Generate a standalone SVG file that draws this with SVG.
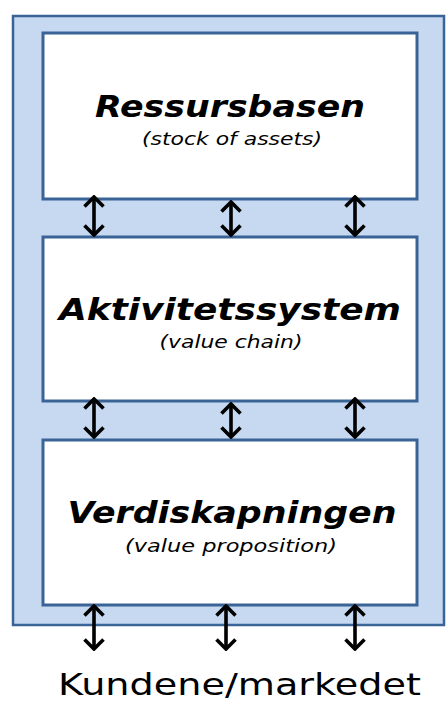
<svg xmlns="http://www.w3.org/2000/svg" width="446" height="704" viewBox="0 0 446 704">
<defs>
<style>
.frame{fill:#c6d9f1;stroke:#3a6396;stroke-width:2.5}
.box{fill:#ffffff;stroke:#3a6396;stroke-width:3}
.title{font-family:"DejaVu Sans",sans-serif;font-weight:bold;font-style:italic;font-size:31px;fill:#000}
.sub{font-family:"DejaVu Sans",sans-serif;font-style:italic;font-size:17px;fill:#000}
.foot{font-family:"DejaVu Sans",sans-serif;font-size:31px;fill:#000}
.arr{stroke:#000;stroke-width:3.6;fill:none;marker-start:url(#head);marker-end:url(#head)}
</style>
<marker id="head" viewBox="0 0 13 22" refX="11" refY="11" markerWidth="13" markerHeight="22" markerUnits="userSpaceOnUse" orient="auto-start-reverse">
<path d="M1.5,1.5 L11,11 L1.5,20.5" fill="none" stroke="#000" stroke-width="3.6" stroke-linejoin="miter"/>
</marker>
</defs>
<rect id="frame" class="frame" x="13" y="16" width="431" height="609"/>
<g id="ressursbasen">
<rect class="box" x="43" y="33" width="374" height="166"/>
<text class="title" x="230" y="117" text-anchor="middle" textLength="270" lengthAdjust="spacingAndGlyphs">Ressursbasen</text>
<text class="sub" x="232" y="145" text-anchor="middle" textLength="180" lengthAdjust="spacingAndGlyphs">(stock of assets)</text>
</g>
<g id="aktivitetssystem">
<rect class="box" x="43" y="237" width="374" height="164"/>
<text class="title" x="230" y="320" text-anchor="middle" textLength="342" lengthAdjust="spacingAndGlyphs">Aktivitetssystem</text>
<text class="sub" x="231" y="348" text-anchor="middle" textLength="143" lengthAdjust="spacingAndGlyphs">(value chain)</text>
</g>
<g id="verdiskapningen">
<rect class="box" x="43" y="440" width="374" height="165"/>
<text class="title" x="232" y="523" text-anchor="middle" textLength="329" lengthAdjust="spacingAndGlyphs">Verdiskapningen</text>
<text class="sub" x="231" y="552" text-anchor="middle" textLength="212" lengthAdjust="spacingAndGlyphs">(value proposition)</text>
</g>
<g id="kundene">
<text class="foot" x="239.5" y="695" text-anchor="middle" textLength="363" lengthAdjust="spacingAndGlyphs">Kundene/markedet</text>
</g>
<g id="connectors">
<line class="arr" x1="94" y1="197" x2="94" y2="235"/>
<line class="arr" x1="231" y1="202" x2="231" y2="235"/>
<line class="arr" x1="355" y1="197" x2="355" y2="235"/>
<line class="arr" x1="94" y1="399" x2="94" y2="437"/>
<line class="arr" x1="231" y1="404" x2="231" y2="437"/>
<line class="arr" x1="355" y1="399" x2="355" y2="437"/>
<line class="arr" x1="94" y1="606" x2="94" y2="649"/>
<line class="arr" x1="226" y1="606" x2="226" y2="649"/>
<line class="arr" x1="355" y1="606" x2="355" y2="649"/>
</g>
</svg>
